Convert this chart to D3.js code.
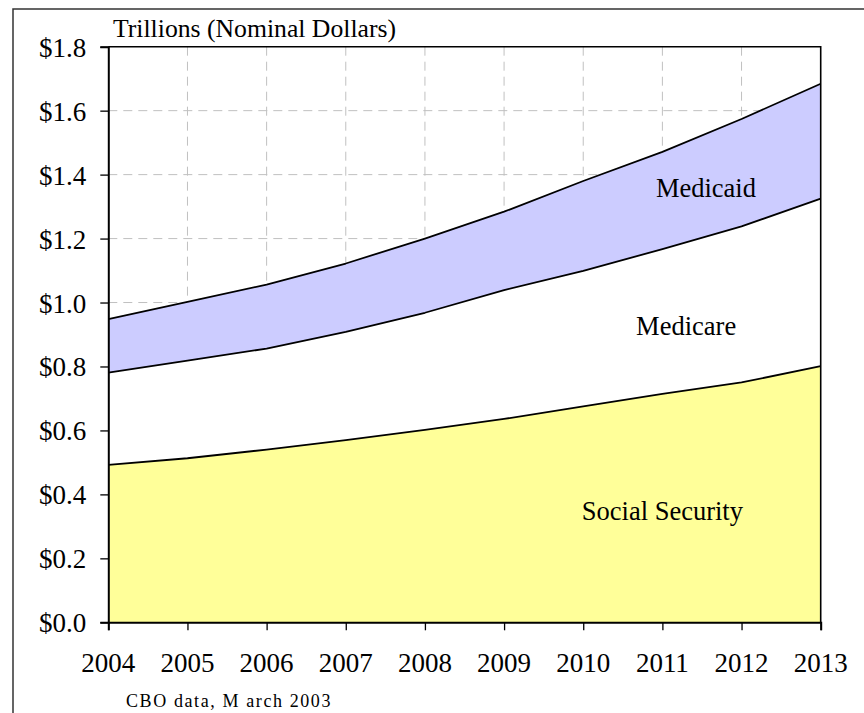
<!DOCTYPE html>
<html>
<head>
<meta charset="utf-8">
<script src="https://cdn.jsdelivr.net/npm/d3@7"></script>
<style>
  html, body { margin: 0; padding: 0; background: #fff; overflow: hidden; }
  svg { display: block; }
</style>
</head>
<body>
<svg id="chart"></svg>
<script>
// CBO spending projections, trillions of nominal dollars
var years = [2004, 2005, 2006, 2007, 2008, 2009, 2010, 2011, 2012, 2013];
var socialSecurity = [0.492, 0.513, 0.540, 0.570, 0.602, 0.636, 0.675, 0.714, 0.750, 0.801];
var medicare = [0.289, 0.305, 0.316, 0.338, 0.366, 0.403, 0.424, 0.453, 0.488, 0.524];
var medicaid = [0.167, 0.184, 0.200, 0.214, 0.232, 0.245, 0.281, 0.304, 0.336, 0.359];
var yTicks = [0, 0.2, 0.4, 0.6, 0.8, 1.0, 1.2, 1.4, 1.6, 1.8];
var seriesNames = ["Social Security", "Medicare", "Medicaid"];

/*************** settings *****************/
var width = 864,
	height = 713,
	margin = {top: 46.7, right: 43.3, bottom: 90.7, left: 108.3},
	serif = "'Liberation Serif', 'Times New Roman', serif",
	colors = {"Social Security": "#ffff99", "Medicare": "#ffffff", "Medicaid": "#ccccff"};

var svg = d3.select("#chart")
	.attr("width", width)
	.attr("height", height);

// outer frame (only top and left edges are visible)
svg.append("path")
	.attr("d", "M13,713 L13,9 L864,9")
	.attr("fill", "none")
	.attr("stroke", "#333")
	.attr("stroke-width", 1.5);

/*************** scales (page coordinates) *****************/
var x = d3.scaleLinear()
	.domain([years[0], years[years.length - 1]])
	.range([margin.left, width - margin.right]);
var y = d3.scaleLinear()
	.domain([0, 1.8])
	.range([height - margin.bottom, margin.top]);

/*************** data *****************/
var table = years.map(function(yr, i) {
	return {year: yr, "Social Security": socialSecurity[i], "Medicare": medicare[i], "Medicaid": medicaid[i]};
});
var stacked = d3.stack().keys(seriesNames)(table);

/*************** grid *****************/
svg.append("g").attr("class", "grid")
	.selectAll("line")
	.data(yTicks.slice(1, -1))
	.enter().append("line")
		.attr("x1", x.range()[0]).attr("x2", x.range()[1])
		.attr("y1", function(d) { return y(d); })
		.attr("y2", function(d) { return y(d); })
		.attr("stroke", "#c0c0c0")
		.attr("stroke-dasharray", "9,6");

svg.append("g").attr("class", "grid")
	.selectAll("line")
	.data(years.slice(1, -1))
	.enter().append("line")
		.attr("y1", y.range()[1]).attr("y2", y.range()[0])
		.attr("x1", function(d) { return x(d); })
		.attr("x2", function(d) { return x(d); })
		.attr("stroke", "#c0c0c0")
		.attr("stroke-dasharray", "9,6");

/*************** areas *****************/
var area = d3.area()
	.x(function(d) { return x(d.data.year); })
	.y0(function(d) { return y(d[0]); })
	.y1(function(d) { return y(d[1]); });

var line = d3.line()
	.x(function(d) { return x(d.data.year); })
	.y(function(d) { return y(d[1]); });

svg.selectAll("path.area")
	.data(stacked)
	.enter().append("path")
		.attr("class", "area")
		.attr("d", area)
		.attr("fill", function(d) { return colors[d.key]; });

svg.selectAll("path.edge")
	.data(stacked)
	.enter().append("path")
		.attr("class", "edge")
		.attr("d", line)
		.attr("fill", "none")
		.attr("stroke", "#000")
		.attr("stroke-width", 1.8)
		.attr("stroke-linejoin", "round");

// plot frame: top and right
svg.append("path")
	.attr("d", "M" + x.range()[0] + "," + y.range()[1] +
		" L" + x.range()[1] + "," + y.range()[1] +
		" L" + x.range()[1] + "," + y.range()[0])
	.attr("fill", "none")
	.attr("stroke", "#000")
	.attr("stroke-width", 1.6);

/*************** axes (lines only, labels drawn below) *****************/
var yAxis = d3.axisLeft(y).tickValues(yTicks).tickSizeOuter(0).tickSize(8).tickFormat("");
var xAxis = d3.axisBottom(x).tickValues(years).tickSizeOuter(0).tickSize(8).tickFormat("");

var yg = svg.append("g").attr("transform", "translate(" + margin.left + ",0)").call(yAxis);
var xg = svg.append("g").attr("transform", "translate(0," + (height - margin.bottom) + ")").call(xAxis);

[yg, xg].forEach(function(ax) {
	ax.select(".domain").attr("stroke", "#000").attr("stroke-width", 2);
	ax.selectAll(".tick line").attr("stroke", "#000").attr("stroke-width", 1.3);
	ax.selectAll(".tick text").remove();
});

svg.append("g").attr("class", "y-labels")
	.selectAll("text")
	.data(yTicks)
	.enter().append("text")
		.attr("x", margin.left - 22)
		.attr("y", function(d) { return y(d) + 10; })
		.attr("text-anchor", "end")
		.attr("font-family", serif)
		.attr("font-size", 27)
		.attr("fill", "#000")
		.text(function(d) { return "$" + d3.format(".1f")(d); });

svg.append("g").attr("class", "x-labels")
	.selectAll("text")
	.data(years)
	.enter().append("text")
		.attr("x", function(d) { return x(d); })
		.attr("y", height - margin.bottom + 50)
		.attr("text-anchor", "middle")
		.attr("font-family", serif)
		.attr("font-size", 27)
		.attr("fill", "#000")
		.text(function(d) { return d; });

/*************** series labels *****************/
var labelPos = {
	"Social Security": {year: 2011.0, value: 0.32},
	"Medicare": {year: 2011.3, value: 0.90},
	"Medicaid": {year: 2011.55, value: 1.33}
};

svg.selectAll("text.series")
	.data(seriesNames)
	.enter().append("text")
		.attr("class", "series")
		.attr("x", function(d) { return x(labelPos[d].year); })
		.attr("y", function(d) { return y(labelPos[d].value); })
		.attr("text-anchor", "middle")
		.attr("font-family", serif)
		.attr("font-size", 26.5)
		.attr("fill", "#000")
		.text(function(d) { return d; });

svg.append("text")
	.attr("x", 113)
	.attr("y", 37)
	.attr("font-family", serif)
	.attr("font-size", 25.7)
	.attr("fill", "#000")
	.text("Trillions (Nominal Dollars)");

svg.append("text")
	.attr("x", 126)
	.attr("y", 707)
	.attr("font-family", serif)
	.attr("font-size", 18)
	.attr("letter-spacing", 1.6)
	.attr("fill", "#000")
	.text("CBO data, M arch 2003");
</script>
</body>
</html>
